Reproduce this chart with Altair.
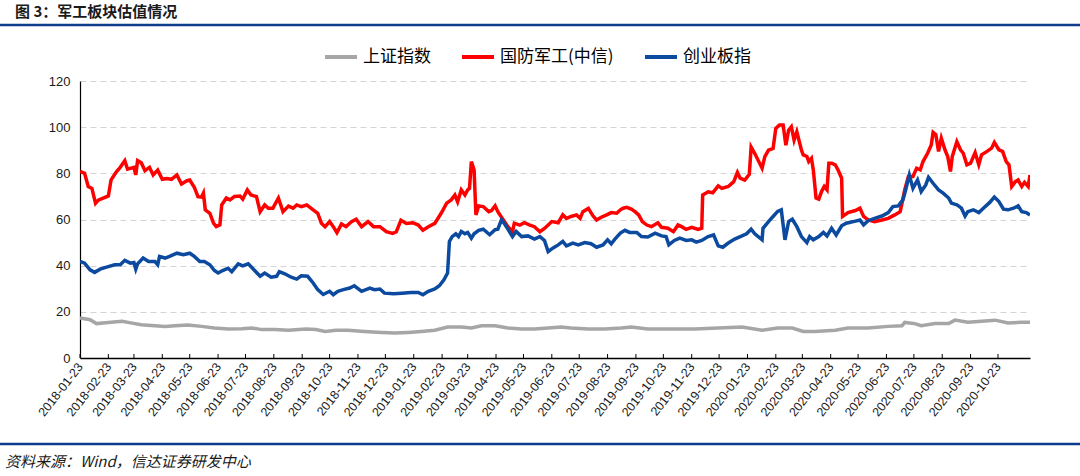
import altair as alt
import pandas as pd

CJK = "Noto Sans CJK SC"
LATIN = "Liberation Sans"

TITLE = "图 3：军工板块估值情况"
SOURCE = "资料来源：Wind，信达证券研发中心"
SERIES = ["上证指数", "国防军工(中信)", "创业板指"]
COLORS = ["#A6A6A6", "#FF0000", "#0B4A9E"]
DOMAIN = ["2018-01-23", "2020-11-27"]
Y_TICKS = [0, 20, 40, 60, 80, 100, 120]

TICK_DATES = [
    "2018-01-23", "2018-02-23", "2018-03-23", "2018-04-23", "2018-05-23", "2018-06-23",
    "2018-07-23", "2018-08-23", "2018-09-23", "2018-10-23", "2018-11-23", "2018-12-23",
    "2019-01-23", "2019-02-23", "2019-03-23", "2019-04-23", "2019-05-23", "2019-06-23",
    "2019-07-23", "2019-08-23", "2019-09-23", "2019-10-23", "2019-11-23", "2019-12-23",
    "2020-01-23", "2020-02-23", "2020-03-23", "2020-04-23", "2020-05-23", "2020-06-23",
    "2020-07-23", "2020-08-23", "2020-09-23", "2020-10-23",
]

# 国防军工(中信)
red_dates = [
    "2018-01-23", "2018-01-28", "2018-02-01", "2018-02-05", "2018-02-09", "2018-02-12",
    "2018-02-23", "2018-02-26", "2018-03-04", "2018-03-08", "2018-03-13", "2018-03-16",
    "2018-03-23", "2018-03-25", "2018-03-27", "2018-03-31", "2018-04-04", "2018-04-09",
    "2018-04-13", "2018-04-18", "2018-04-23", "2018-04-28", "2018-05-03", "2018-05-09",
    "2018-05-14", "2018-05-20", "2018-05-23", "2018-05-28", "2018-06-01", "2018-06-05",
    "2018-06-07", "2018-06-09", "2018-06-14", "2018-06-18", "2018-06-21", "2018-06-25",
    "2018-06-27", "2018-07-02", "2018-07-06", "2018-07-11", "2018-07-17", "2018-07-20",
    "2018-07-25", "2018-07-29", "2018-08-04", "2018-08-08", "2018-08-13", "2018-08-17",
    "2018-08-22", "2018-08-28", "2018-09-02", "2018-09-08", "2018-09-13", "2018-09-17",
    "2018-09-22", "2018-09-28", "2018-10-05", "2018-10-10", "2018-10-14", "2018-10-18",
    "2018-10-23", "2018-10-27", "2018-10-31", "2018-11-05", "2018-11-10", "2018-11-16",
    "2018-11-21", "2018-11-27", "2018-12-04", "2018-12-10", "2018-12-17", "2018-12-24",
    "2018-12-31", "2019-01-04", "2019-01-09", "2019-01-15", "2019-01-22", "2019-01-28",
    "2019-02-02", "2019-02-08", "2019-02-15", "2019-02-22", "2019-02-28", "2019-03-05",
    "2019-03-09", "2019-03-12", "2019-03-16", "2019-03-20", "2019-03-23", "2019-03-25",
    "2019-03-27", "2019-03-30", "2019-04-01", "2019-04-04", "2019-04-09", "2019-04-15",
    "2019-04-18", "2019-04-22", "2019-04-25", "2019-05-01", "2019-05-06", "2019-05-11",
    "2019-05-13", "2019-05-19", "2019-05-24", "2019-05-30", "2019-06-04", "2019-06-10",
    "2019-06-15", "2019-06-23", "2019-06-30", "2019-07-05", "2019-07-09", "2019-07-14",
    "2019-07-20", "2019-07-24", "2019-07-27", "2019-08-02", "2019-08-07", "2019-08-11",
    "2019-08-16", "2019-08-22", "2019-08-27", "2019-09-02", "2019-09-06", "2019-09-09",
    "2019-09-13", "2019-09-18", "2019-09-22", "2019-09-26", "2019-09-30", "2019-10-05",
    "2019-10-10", "2019-10-17", "2019-10-21", "2019-10-28", "2019-11-03", "2019-11-08",
    "2019-11-12", "2019-11-17", "2019-11-23", "2019-11-30", "2019-12-04", "2019-12-05",
    "2019-12-11", "2019-12-16", "2019-12-22", "2019-12-26", "2020-01-02", "2020-01-08",
    "2020-01-12", "2020-01-15", "2020-01-20", "2020-01-25", "2020-01-27", "2020-01-31",
    "2020-02-08", "2020-02-11", "2020-02-15", "2020-02-20", "2020-02-23", "2020-02-27",
    "2020-03-02", "2020-03-05", "2020-03-08", "2020-03-11", "2020-03-14", "2020-03-17",
    "2020-03-22", "2020-03-24", "2020-03-28", "2020-03-30", "2020-04-02", "2020-04-04",
    "2020-04-07", "2020-04-10", "2020-04-13", "2020-04-16", "2020-04-19", "2020-04-21",
    "2020-04-24", "2020-04-28", "2020-05-01", "2020-05-05", "2020-05-06", "2020-05-12",
    "2020-05-20", "2020-05-25", "2020-05-29", "2020-06-03", "2020-06-10", "2020-06-18",
    "2020-06-25", "2020-07-02", "2020-07-08", "2020-07-10", "2020-07-13", "2020-07-17",
    "2020-07-22", "2020-07-26", "2020-07-30", "2020-08-02", "2020-08-07", "2020-08-11",
    "2020-08-13", "2020-08-16", "2020-08-19", "2020-08-22", "2020-08-26", "2020-08-29",
    "2020-09-01", "2020-09-03", "2020-09-08", "2020-09-12", "2020-09-15", "2020-09-19",
    "2020-09-23", "2020-09-28", "2020-10-02", "2020-10-05", "2020-10-11", "2020-10-16",
    "2020-10-19", "2020-10-24", "2020-10-28", "2020-11-01", "2020-11-04", "2020-11-07",
    "2020-11-11", "2020-11-14", "2020-11-18", "2020-11-21", "2020-11-25", "2020-11-27",
]
red_vals = [
    80.8, 80.0, 74.3, 73.5, 67.0, 68.4,
    70.2, 77.2, 80.8, 82.6, 85.5, 81.8,
    82.6, 79.3, 85.5, 84.6, 81.2, 82.6,
    79.3, 81.4, 77.4, 77.8, 77.4, 79.3,
    75.4, 76.8, 77.1, 74.0, 69.9, 69.7,
    71.4, 64.2, 62.7, 58.4, 56.9, 57.7,
    66.3, 69.3, 68.5, 70.0, 70.2, 68.8,
    72.8, 70.6, 69.9, 63.4, 66.3, 64.9,
    64.9, 69.3, 63.4, 65.8, 64.9, 66.3,
    65.6, 66.3, 64.2, 62.7, 58.4, 56.9,
    59.1, 56.9, 54.3, 58.1, 56.9, 59.1,
    60.1, 56.9, 59.1, 56.9, 56.9, 54.7,
    54.0, 54.7, 59.7, 58.3, 58.6, 57.6,
    55.4, 56.9, 58.3, 62.7, 67.1, 68.5,
    70.6, 67.7, 72.8, 70.6, 72.8, 73.5,
    85.1, 81.5, 62.0, 65.9, 65.6, 63.4,
    63.9, 65.9, 63.4, 59.8, 56.9, 54.7,
    58.4, 57.6, 58.6, 57.6, 56.9, 54.7,
    56.1, 59.1, 58.6, 62.0, 60.5, 61.3,
    62.0, 60.5, 63.4, 64.8, 61.6, 59.8,
    61.0, 62.0, 63.0, 62.7, 64.2, 64.9,
    65.3, 64.5, 63.4, 62.0, 59.1, 57.6,
    56.9, 58.6, 56.6, 56.2, 54.7, 57.6,
    56.9, 55.7, 56.6, 55.7, 56.2, 70.6,
    72.0, 71.6, 74.6, 73.5, 74.3, 76.4,
    80.4, 77.9, 77.1, 79.6, 91.4, 88.6,
    82.2, 87.2, 90.0, 90.8, 99.5, 100.9,
    100.9, 92.2, 98.7, 100.2, 94.4, 98.0,
    90.1, 88.0, 87.3, 85.1, 86.5, 81.5,
    69.3, 68.8, 72.1, 74.3, 72.8, 84.4,
    84.4, 83.7, 81.5, 77.9, 61.3, 63.0,
    63.9, 64.9, 61.3, 59.8, 59.1, 59.8,
    60.5, 62.0, 63.4, 67.1, 72.8, 78.6,
    78.6, 82.2, 81.5, 85.1, 88.7, 92.3,
    97.7, 96.7, 89.5, 95.2, 90.2, 87.3,
    80.8, 87.3, 93.7, 90.2, 88.7, 83.7,
    84.4, 89.0, 83.7, 88.0, 89.5, 90.9,
    93.4, 90.2, 89.5, 85.1, 83.7, 74.3,
    76.4, 77.1, 74.3, 76.1, 74.3, 79.3,
]

# 创业板指
blue_dates = [
    "2018-01-23", "2018-01-28", "2018-02-03", "2018-02-08", "2018-02-14", "2018-02-21",
    "2018-03-02", "2018-03-08", "2018-03-13", "2018-03-19", "2018-03-23", "2018-03-25",
    "2018-03-27", "2018-04-02", "2018-04-08", "2018-04-15", "2018-04-18", "2018-04-20",
    "2018-04-26", "2018-05-01", "2018-05-09", "2018-05-16", "2018-05-23", "2018-05-28",
    "2018-06-03", "2018-06-08", "2018-06-14", "2018-06-19", "2018-06-23", "2018-06-28",
    "2018-07-04", "2018-07-08", "2018-07-15", "2018-07-20", "2018-07-26", "2018-08-02",
    "2018-08-08", "2018-08-13", "2018-08-20", "2018-08-26", "2018-08-29", "2018-09-04",
    "2018-09-11", "2018-09-17", "2018-09-22", "2018-09-29", "2018-10-05", "2018-10-10",
    "2018-10-16", "2018-10-23", "2018-10-27", "2018-11-01", "2018-11-07", "2018-11-14",
    "2018-11-19", "2018-11-27", "2018-12-06", "2018-12-11", "2018-12-17", "2018-12-22",
    "2019-01-01", "2019-01-10", "2019-01-20", "2019-01-28", "2019-02-02", "2019-02-08",
    "2019-02-15", "2019-02-20", "2019-02-25", "2019-03-01", "2019-03-03", "2019-03-06",
    "2019-03-10", "2019-03-13", "2019-03-16", "2019-03-20", "2019-03-23", "2019-03-27",
    "2019-03-30", "2019-04-04", "2019-04-09", "2019-04-12", "2019-04-16", "2019-04-22",
    "2019-04-25", "2019-04-29", "2019-05-03", "2019-05-06", "2019-05-11", "2019-05-15",
    "2019-05-21", "2019-05-28", "2019-06-04", "2019-06-10", "2019-06-15", "2019-06-19",
    "2019-06-24", "2019-06-30", "2019-07-05", "2019-07-09", "2019-07-16", "2019-07-22",
    "2019-07-29", "2019-08-05", "2019-08-11", "2019-08-18", "2019-08-23", "2019-08-27",
    "2019-08-31", "2019-09-06", "2019-09-11", "2019-09-16", "2019-09-24", "2019-09-29",
    "2019-10-06", "2019-10-14", "2019-10-21", "2019-10-26", "2019-10-29", "2019-11-04",
    "2019-11-10", "2019-11-17", "2019-11-23", "2019-11-28", "2019-12-04", "2019-12-11",
    "2019-12-17", "2019-12-22", "2019-12-27", "2020-01-02", "2020-01-09", "2020-01-17",
    "2020-01-22", "2020-01-27", "2020-01-31", "2020-02-08", "2020-02-09", "2020-02-15",
    "2020-02-20", "2020-02-25", "2020-02-29", "2020-03-04", "2020-03-08", "2020-03-12",
    "2020-03-17", "2020-03-22", "2020-03-28", "2020-03-31", "2020-04-04", "2020-04-10",
    "2020-04-15", "2020-04-19", "2020-04-24", "2020-04-29", "2020-05-05", "2020-05-10",
    "2020-05-18", "2020-05-25", "2020-05-29", "2020-06-03", "2020-06-10", "2020-06-18",
    "2020-06-25", "2020-06-30", "2020-07-06", "2020-07-11", "2020-07-14", "2020-07-18",
    "2020-07-22", "2020-07-27", "2020-07-31", "2020-08-05", "2020-08-08", "2020-08-13",
    "2020-08-19", "2020-08-24", "2020-08-30", "2020-09-02", "2020-09-08", "2020-09-13",
    "2020-09-17", "2020-09-20", "2020-09-26", "2020-10-02", "2020-10-07", "2020-10-14",
    "2020-10-19", "2020-10-24", "2020-10-29", "2020-11-03", "2020-11-09", "2020-11-14",
    "2020-11-18", "2020-11-23", "2020-11-27",
]
blue_vals = [
    41.8, 41.1, 38.2, 37.1, 38.5, 39.4,
    40.4, 40.4, 42.3, 41.1, 41.4, 38.5,
    40.8, 43.3, 41.8, 41.8, 40.4, 44.0,
    43.3, 44.0, 45.4, 44.7, 45.4, 44.0,
    41.8, 41.8, 40.4, 37.9, 36.8, 37.9,
    38.9, 37.4, 40.8, 39.9, 40.8, 37.9,
    35.4, 36.8, 35.0, 35.4, 37.4, 36.5,
    35.0, 34.2, 35.6, 35.4, 32.5, 29.6,
    27.5, 28.9, 27.4, 28.9, 29.6, 30.3,
    31.3, 28.9, 30.3, 29.6, 29.9, 28.1,
    27.8, 28.1, 28.4, 28.4, 27.4, 28.9,
    29.9, 31.3, 33.9, 36.8, 50.5, 52.6,
    53.8, 52.6, 54.8, 53.8, 54.4, 51.9,
    53.8, 55.3, 55.8, 54.8, 53.4, 55.6,
    55.8, 59.9, 57.7, 55.8, 52.6, 54.8,
    52.6, 52.9, 51.5, 52.6, 50.9, 46.1,
    47.6, 49.0, 50.5, 48.6, 49.8, 49.0,
    50.0, 49.5, 48.0, 49.0, 51.2, 49.5,
    51.5, 54.1, 55.3, 54.4, 54.4, 52.6,
    52.4, 54.1, 52.9, 52.6, 49.0, 50.9,
    51.9, 50.9, 51.2, 50.2, 50.9, 52.6,
    53.3, 48.6, 48.0, 49.8, 51.5, 52.9,
    53.8, 55.8, 53.8, 51.2, 56.2, 59.1,
    61.3, 63.5, 64.2, 51.2, 59.1, 60.1,
    56.9, 52.6, 50.0, 52.6, 51.2, 52.6,
    54.4, 52.9, 56.2, 53.3, 57.3, 58.4,
    59.1, 59.8, 57.7, 59.5, 60.5, 61.5,
    63.0, 65.6, 65.9, 68.5, 72.8, 79.3,
    73.5, 77.1, 72.1, 75.0, 78.3, 75.7,
    72.8, 71.4, 69.3, 67.1, 66.4, 64.9,
    61.5, 63.4, 64.2, 63.0, 64.9, 67.4,
    69.7, 67.8, 64.5, 64.2, 64.9, 65.9,
    63.4, 63.0, 61.9,
]

# 上证指数
gray_dates = [
    "2018-01-23", "2018-02-03", "2018-02-10", "2018-02-23", "2018-03-10", "2018-03-21",
    "2018-03-31", "2018-04-15", "2018-04-26", "2018-05-07", "2018-05-21", "2018-06-05",
    "2018-06-19", "2018-07-04", "2018-07-19", "2018-07-30", "2018-08-10", "2018-08-24",
    "2018-09-08", "2018-09-27", "2018-10-08", "2018-10-18", "2018-10-30", "2018-11-12",
    "2018-11-30", "2018-12-19", "2019-01-02", "2019-01-17", "2019-01-31", "2019-02-15",
    "2019-03-01", "2019-03-16", "2019-03-27", "2019-04-07", "2019-04-22", "2019-05-06",
    "2019-05-21", "2019-06-04", "2019-06-19", "2019-07-03", "2019-07-14", "2019-08-02",
    "2019-08-20", "2019-09-07", "2019-09-18", "2019-10-06", "2019-11-01", "2019-11-26",
    "2019-12-22", "2020-01-17", "2020-02-08", "2020-02-25", "2020-03-12", "2020-03-24",
    "2020-04-06", "2020-04-28", "2020-05-12", "2020-06-03", "2020-06-25", "2020-07-10",
    "2020-07-13", "2020-07-24", "2020-07-31", "2020-08-15", "2020-08-30", "2020-09-06",
    "2020-09-20", "2020-10-05", "2020-10-20", "2020-11-03", "2020-11-18", "2020-11-27",
]
gray_vals = [
    17.3, 16.6, 14.9, 15.4, 15.9, 15.1,
    14.4, 14.0, 13.7, 14.0, 14.3, 13.7,
    13.0, 12.6, 12.7, 13.0, 12.3, 12.3,
    12.0, 12.6, 12.3, 11.5, 12.0, 12.0,
    11.5, 11.1, 10.8, 11.1, 11.5, 12.0,
    13.4, 13.4, 13.0, 14.0, 14.0, 13.0,
    12.6, 12.6, 13.0, 13.4, 13.0, 12.6,
    12.6, 13.0, 13.4, 12.6, 12.6, 12.6,
    13.0, 13.4, 12.0, 13.0, 13.0, 11.5,
    11.5, 12.0, 13.0, 13.0, 13.7, 14.0,
    15.4, 14.9, 14.0, 14.9, 14.9, 16.4,
    15.5, 15.9, 16.4, 15.2, 15.5, 15.5,
]


def utc(d):
    y, m, dd = (int(p) for p in d.split("-"))
    return alt.DateTime(year=y, month=m, date=dd, utc=True)


def frame(name, dates, vals):
    return pd.DataFrame({"date": dates, "value": vals, "series": name})


df = pd.concat(
    [
        frame(SERIES[0], gray_dates, gray_vals),
        frame(SERIES[1], red_dates, red_vals),
        frame(SERIES[2], blue_dates, blue_vals),
    ],
    ignore_index=True,
)

W, H = 950, 277
PAD_L, PAD_T = 80, 81

x_scale = alt.Scale(type="utc", domain=[utc(DOMAIN[0]), utc(DOMAIN[1])])
y_scale = alt.Scale(domain=[Y_TICKS[0], Y_TICKS[-1]], nice=False)

x_axis = alt.Axis(
    values=[utc(d) for d in TICK_DATES],
    format="%Y-%m-%d",
    labelAngle=-52,
    labelAlign="right",
    labelBaseline="middle",
    labelFont=LATIN,
    labelFontSize=12.5,
    labelColor="#1a1a1a",
    labelPadding=6,
    labelOverlap=False,
    labelBound=False,
    labelFlush=False,
    ticks=False,
    grid=False,
    domainColor="#000000",
    domainWidth=1.5,
    title=None,
)
y_axis = alt.Axis(
    values=Y_TICKS,
    labelFont=LATIN,
    labelFontSize=13,
    labelColor="#1a1a1a",
    labelPadding=10,
    ticks=False,
    grid=True,
    gridDash=[6, 4],
    gridColor="#D4D4D4",
    gridWidth=1,
    domainColor="#000000",
    domainWidth=1.2,
    title=None,
)

legend = alt.Legend(
    orient="none",
    legendX=243,
    legendY=-42,
    direction="horizontal",
    title=None,
    symbolType="stroke",
    symbolStrokeWidth=4,
    symbolSize=1024,
    labelFont=CJK,
    labelFontSize=17,
    labelColor="#000000",
    labelOffset=4,
    columnPadding=23,
)

ticks = alt.Chart(pd.DataFrame({"date": TICK_DATES})).mark_rule(
    color="#000000", strokeWidth=1
).encode(
    x=alt.X("date:T", scale=x_scale, axis=x_axis),
    y=alt.value(H - 4),
    y2=alt.value(H),
)

lines = alt.Chart(df).mark_line(strokeWidth=3.5, clip=True).encode(
    x=alt.X("date:T", scale=x_scale, axis=x_axis),
    y=alt.Y("value:Q", scale=y_scale, axis=y_axis),
    color=alt.Color(
        "series:N",
        scale=alt.Scale(domain=SERIES, range=COLORS),
        legend=legend,
        sort=SERIES,
    ),
)

title = alt.Chart(pd.DataFrame({"t": [TITLE]})).mark_text(
    align="left", baseline="middle", font=CJK, fontSize=15, fontWeight="bold", color="#1a1a1a"
).encode(x=alt.value(15 - PAD_L), y=alt.value(12 - PAD_T), text="t:N")

title_rule = alt.Chart(pd.DataFrame({"k": [0]})).mark_rule(
    color="#0D3C8C", strokeWidth=2.5
).encode(x=alt.value(-PAD_L), x2=alt.value(1080 - PAD_L), y=alt.value(25 - PAD_T))

foot_rule = alt.Chart(pd.DataFrame({"k": [0]})).mark_rule(
    color="#0D3C8C", strokeWidth=2.5
).encode(x=alt.value(-PAD_L), x2=alt.value(1080 - PAD_L), y=alt.value(444 - PAD_T))

source = alt.Chart(pd.DataFrame({"t": [SOURCE]})).mark_text(
    align="left", baseline="middle", font=CJK, fontSize=15, fontStyle="italic", color="#1a1a1a"
).encode(x=alt.value(5 - PAD_L), y=alt.value(462 - PAD_T), text="t:N")

chart = (
    alt.layer(ticks, lines, title, title_rule, foot_rule, source)
    .properties(
        width=W,
        height=H,
        autosize=alt.AutoSizeParams(type="none"),
        padding={"left": PAD_L, "top": PAD_T, "right": 1080 - PAD_L - W, "bottom": 476 - PAD_T - H},
        background="white",
    )
    .configure_view(stroke=None)
)

chart.save("out.html", embed_options={"renderer": "svg", "actions": False})
